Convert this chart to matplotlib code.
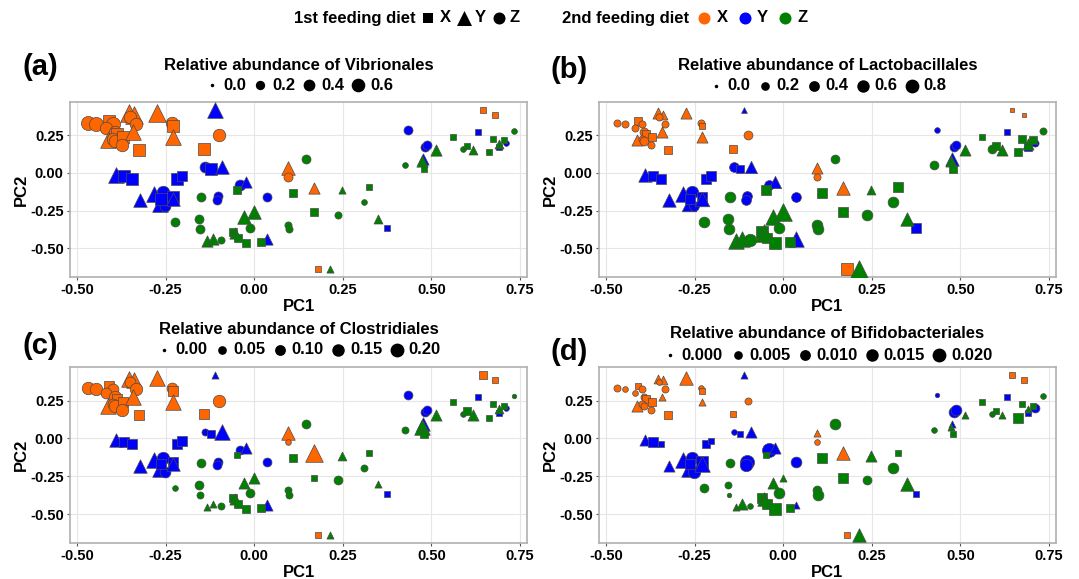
import numpy as np
import matplotlib
matplotlib.use("Agg")
import matplotlib.pyplot as plt

plt.rcParams.update({'font.family': 'sans-serif',
                     'font.sans-serif': ['Liberation Sans', 'DejaVu Sans'],
                     'font.weight': 'bold'})

W, H = 1079, 579

# ---------------- data ----------------
# rows: 1-30 2nd diet X (orange), 31-61 2nd diet Y (blue), 62-101 2nd diet Z (green)
pc1 = [-0.468, -0.447, -0.410, -0.400, -0.418, -0.392, -0.388, -0.412, -0.398, -0.394,
       -0.371, -0.374, -0.353, -0.340, -0.352, -0.334, -0.343, -0.324, -0.274, -0.233,
       -0.230, -0.229, -0.098, -0.142, 0.094, 0.096, 0.168, 0.180, 0.645, 0.680,
       -0.111, -0.390, -0.368, -0.344, -0.217, -0.205, -0.140, -0.123, -0.090, -0.040,
       -0.023, -0.102, -0.104, 0.035, -0.322, -0.284, -0.258, -0.230, -0.265, -0.252,
       -0.262, -0.228, 0.037, 0.374, 0.435, 0.482, 0.487, 0.477, 0.633, 0.712, 0.692,
       0.145, 0.109, -0.049, -0.149, -0.224, -0.155, -0.153, -0.133, -0.115, -0.094,
       -0.061, -0.055, -0.047, -0.022, 0.018, -0.030, -0.002, -0.012, 0.094, 0.099,
       0.247, 0.325, 0.311, 0.169, 0.237, 0.350, 0.214, 0.426, 0.512, 0.473,
       0.479, 0.560, 0.589, 0.602, 0.617, 0.664, 0.675, 0.706, 0.692, 0.734]
pc2 = [0.330, 0.326, 0.348, 0.327, 0.299, 0.272, 0.262, 0.217, 0.228, 0.212,
       0.237, 0.188, 0.395, 0.385, 0.372, 0.325, 0.270, 0.155, 0.398, 0.332,
       0.314, 0.237, 0.250, 0.162, 0.035, -0.027, -0.098, -0.640, 0.420, 0.387,
       0.415, -0.010, -0.021, -0.037, -0.038, -0.017, 0.039, 0.028, 0.039, -0.078,
       -0.063, -0.155, -0.178, -0.158, -0.182, -0.142, -0.127, -0.157, -0.205, -0.222,
       -0.170, -0.172, -0.441, -0.365, 0.283, 0.173, 0.188, 0.093, 0.270, 0.199, 0.170,
       0.096, -0.132, -0.112, -0.160, -0.328, -0.308, -0.373, -0.450, -0.436, -0.447,
       -0.392, -0.398, -0.434, -0.466, -0.456, -0.292, -0.260, -0.363, -0.342, -0.374,
       -0.115, -0.095, -0.192, -0.259, -0.277, -0.303, -0.635, 0.055, 0.155, 0.077,
       0.029, 0.237, 0.161, 0.181, 0.155, 0.137, 0.226, 0.217, 0.195, 0.277]
diet1 = list("ZZXZZZXYZZXZYYZZYXYZXYZXYZYXXX"
             "YYXXXXZXYZYZZZYYZXYZXYYXZZZYXZX"
             "ZXXZZZZYYZXYXXXYYZZZYXZXZYYZYYXXZXYXXXYZ")
diet2 = ["X"] * 30 + ["Y"] * 31 + ["Z"] * 40

vibrionales = [0.66, 0.66, 0.66, 0.66, 0.48, 0.48, 0.66, 0.48, 0.48, 0.48,
               0.66, 0.48, 0.66, 0.66, 0.48, 0.48, 0.48, 0.48, 0.66, 0.48,
               0.48, 0.48, 0.48, 0.48, 0.32, 0.18, 0.18, 0.03, 0.08, 0.08,
               0.48, 0.48, 0.48, 0.48, 0.48, 0.32, 0.32, 0.48, 0.32, 0.32,
               0.18, 0.18, 0.18, 0.18, 0.32, 0.48, 0.48, 0.48, 0.48, 0.32,
               0.48, 0.32, 0.18, 0.03, 0.18, 0.18, 0.18, 0.18, 0.08, 0.03, 0.08,
               0.18, 0.18, 0.18, 0.18, 0.18, 0.18, 0.18, 0.18, 0.18, 0.08,
               0.18, 0.18, 0.18, 0.18, 0.18, 0.32, 0.32, 0.18, 0.08, 0.08,
               0.03, 0.08, 0.03, 0.18, 0.08, 0.08, 0.03, 0.03, 0.18, 0.18,
               0.08, 0.08, 0.03, 0.08, 0.08, 0.08, 0.08, 0.08, 0.08, 0.03]
lactobacillales = [0.10, 0.10, 0.22, 0.10, 0.10, 0.22, 0.22, 0.22, 0.10, 0.22,
                   0.22, 0.10, 0.22, 0.10, 0.10, 0.10, 0.22, 0.22, 0.22, 0.10,
                   0.10, 0.22, 0.22, 0.22, 0.22, 0.10, 0.40, 0.85, 0.035, 0.035,
                   0.01, 0.40, 0.40, 0.40, 0.40, 0.40, 0.30, 0.30, 0.30, 0.30,
                   0.30, 0.30, 0.30, 0.30, 0.40, 0.60, 0.60, 0.60, 0.50, 0.30,
                   0.60, 0.50, 0.60, 0.55, 0.035, 0.22, 0.22, 0.40, 0.10, 0.10, 0.22,
                   0.22, 0.40, 0.40, 0.40, 0.40, 0.40, 0.40, 0.60, 0.60, 0.60,
                   0.85, 0.85, 0.60, 0.85, 0.60, 0.60, 0.85, 0.40, 0.40, 0.40,
                   0.10, 0.40, 0.40, 0.40, 0.40, 0.40, 0.85, 0.22, 0.22, 0.22,
                   0.22, 0.10, 0.22, 0.22, 0.22, 0.22, 0.22, 0.22, 0.22, 0.10]
clostridiales = [0.15, 0.15, 0.15, 0.10, 0.10, 0.15, 0.10, 0.15, 0.10, 0.15,
                 0.15, 0.15, 0.15, 0.15, 0.10, 0.15, 0.15, 0.15, 0.15, 0.10,
                 0.10, 0.15, 0.15, 0.10, 0.10, 0.009, 0.21, 0.009, 0.055, 0.024,
                 0.009, 0.10, 0.10, 0.15, 0.10, 0.15, 0.024, 0.055, 0.15, 0.055,
                 0.055, 0.055, 0.055, 0.055, 0.10, 0.15, 0.15, 0.15, 0.15, 0.10,
                 0.15, 0.10, 0.055, 0.009, 0.055, 0.055, 0.055, 0.10, 0.024, 0.009, 0.024,
                 0.055, 0.055, 0.009, 0.055, 0.009, 0.055, 0.024, 0.009, 0.009, 0.024,
                 0.055, 0.055, 0.055, 0.055, 0.055, 0.055, 0.055, 0.055, 0.024, 0.024,
                 0.024, 0.024, 0.024, 0.024, 0.055, 0.009, 0.009, 0.024, 0.055, 0.15,
                 0.055, 0.024, 0.009, 0.055, 0.055, 0.009, 0.024, 0.024, 0.024, 0.002]
bifidobacteriales = [0.0024, 0.0009, 0.0024, 0.0024, 0.0009, 0.0024, 0.0055, 0.0055, 0.0024, 0.0024,
                     0.0055, 0.0024, 0.0024, 0.0024, 0.0009, 0.0024, 0.0009, 0.0055, 0.010, 0.0009,
                     0.0009, 0.0009, 0.0024, 0.0009, 0.0009, 0.0009, 0.010, 0.0009, 0.0009, 0.0009,
                     0.0009, 0.0055, 0.010, 0.0009, 0.0055, 0.0009, 0.0009, 0.0009, 0.0055, 0.021,
                     0.0055, 0.021, 0.015, 0.010, 0.0055, 0.015, 0.015, 0.021, 0.015, 0.015,
                     0.015, 0.015, 0.0009, 0.0009, 0.0002, 0.010, 0.010, 0.0009, 0.0024, 0.0055, 0.0024,
                     0.010, 0.010, 0.0009, 0.0055, 0.0055, 0.0024, 0.0002, 0.0009, 0.0055, 0.0009,
                     0.010, 0.010, 0.015, 0.021, 0.0055, 0.0055, 0.0009, 0.010, 0.0055, 0.010,
                     0.0055, 0.0009, 0.010, 0.010, 0.0055, 0.010, 0.010, 0.0009, 0.0009, 0.0009,
                     0.0009, 0.0024, 0.0009, 0.0024, 0.0009, 0.010, 0.0024, 0.0024, 0.0009, 0.0009]

panels = [
    ("(a)", "Vibrionales", vibrionales, ["0.0", "0.2", "0.4", "0.6"]),
    ("(b)", "Lactobacillales", lactobacillales, ["0.0", "0.2", "0.4", "0.6", "0.8"]),
    ("(c)", "Clostridiales", clostridiales, ["0.00", "0.05", "0.10", "0.15", "0.20"]),
    ("(d)", "Bifidobacteriales", bifidobacteriales, ["0.000", "0.005", "0.010", "0.015", "0.020"]),
]

# ---------------- styles ----------------
shape_marker = {"X": "s", "Y": "^", "Z": "o"}
shape_scale = {"X": 0.88, "Y": 1.25, "Z": 1.0}
diet_color = {"X": "#FF6600", "Y": "#0000FF", "Z": "#008000"}

# pixel boxes of the panels: left, top, right, bottom
boxes = [(70, 102, 527, 277), (599, 102, 1056, 277),
         (70, 367, 527, 543), (599, 367, 1056, 543)]
label_pos = [(40, 67), (569, 70), (40, 346), (569, 352)]
title_y = [65, 65, 330, 334]
legend_y = [85, 86, 350, 355]


def size_px(v, vmax):
    return 3.5 + 10.6 * np.sqrt(np.asarray(v, dtype=float) / vmax)


fig = plt.figure(figsize=(W / 100, H / 100), dpi=100)
ov = fig.add_axes([0, 0, 1, 1], zorder=10)
ov.set_xlim(0, W)
ov.set_ylim(H, 0)
ov.axis("off")
renderer = fig.canvas.get_renderer()


def text_width(s, fs):
    t = ov.text(0, 0, s, fontsize=fs, fontweight="bold")
    w = t.get_window_extent(renderer).width
    t.remove()
    return w


for k, (lab, order, vals, brk) in enumerate(panels):
    l, t, r, b = boxes[k]
    ax = fig.add_axes([l / W, 1 - b / H, (r - l) / W, (b - t) / H])
    vmax = max(vals)
    d = size_px(vals, vmax) * 0.72
    for i in range(len(pc1)):
        ax.scatter(pc1[i], pc2[i], marker=shape_marker[diet1[i]],
                   s=(d[i] * shape_scale[diet1[i]]) ** 2,
                   color=diet_color[diet2[i]], edgecolors="#4a4a4a",
                   linewidths=0.5, zorder=3)
    ax.set_xlim(-0.52, 0.77)
    ax.set_ylim(-0.69, 0.471)
    ax.set_xticks([-0.5, -0.25, 0, 0.25, 0.5, 0.75])
    ax.set_xticklabels(["-0.50", "-0.25", "0.00", "0.25", "0.50", "0.75"])
    ax.set_yticks([-0.5, -0.25, 0, 0.25])
    ax.set_yticklabels(["-0.50", "-0.25", "0.00", "0.25"])
    ax.grid(True, color="#E6E6E6", linewidth=0.8, zorder=0)
    ax.set_axisbelow(True)
    for sp in ax.spines.values():
        sp.set_color("#B0B0B0")
        sp.set_linewidth(1.2)
    ax.tick_params(length=2.5, width=0.8, color="#555555", pad=2, labelsize=10.5)
    for tl in ax.get_xticklabels() + ax.get_yticklabels():
        tl.set_fontweight("bold")
    ax.set_xlabel("PC1", fontsize=12, fontweight="bold", labelpad=1)
    ax.set_ylabel("PC2", fontsize=12, fontweight="bold", labelpad=1)

    ov.text(label_pos[k][0], label_pos[k][1], lab, fontsize=21, fontweight="bold",
            ha="center", va="center")
    cx = (l + r) / 2
    ov.text(cx, title_y[k], "Relative abundance of " + order, fontsize=12,
            fontweight="bold", ha="center", va="center")

    # size legend
    bvals = [float(s) for s in brk]
    widths = [text_width(s, 12) for s in brk]
    key, g1, g2 = 15, 4, 7
    total = sum(key + g1 + w for w in widths) + g2 * (len(brk) - 1)
    x = cx - total / 2
    for bv, s, w in zip(bvals, brk, widths):
        ov.scatter(x + key / 2, legend_y[k], marker="o", color="black",
                   s=(size_px(bv, vmax) * 0.72) ** 2, linewidths=0)
        ov.text(x + key + g1, legend_y[k], s, fontsize=12, fontweight="bold",
                ha="left", va="center")
        x += key + g1 + w + g2

# top legends
ty = 18
ov.text(416, ty, "1st feeding diet", fontsize=12, fontweight="bold", ha="right", va="center")
for mx, lx, mk, lb in [(428, 440, "s", "X"), (464, 475, "^", "Y"), (499, 510, "o", "Z")]:
    ov.scatter(mx, ty, marker=mk, color="black", s=(12 * 0.72 * shape_scale[lb]) ** 2, linewidths=0)
    ov.text(lx, ty, lb, fontsize=12, fontweight="bold", ha="left", va="center")
ov.text(689, ty, "2nd feeding diet", fontsize=12, fontweight="bold", ha="right", va="center")
for mx, lx, lb in [(703.8, 717, "X"), (744.5, 757, "Y"), (784.8, 798, "Z")]:
    ov.scatter(mx, ty, marker="o", color=diet_color[lb], s=(12 * 0.72) ** 2, linewidths=0)
    ov.text(lx, ty, lb, fontsize=12, fontweight="bold", ha="left", va="center")

fig.savefig("out.png", dpi=100)
